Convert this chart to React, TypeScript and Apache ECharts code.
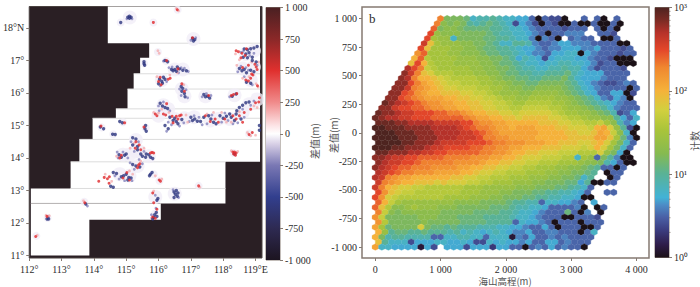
import React, { useEffect, useRef } from "react";
import * as echarts from "echarts";

// ---------- panel a: coastline of the survey tiles (lon, lat) ----------
const seaLon = [114.43, 114.43, 115.71, 115.71, 115.43, 115.43, 115.23, 115.23, 115.04, 115.04, 114.68, 114.68, 113.96, 113.96, 113.55, 113.55, 113.28, 113.28, 112.05, 112.05, 113.86, 113.86, 116.07, 116.07, 118.07, 118.07, 119.14, 119.14];
const seaLat = [18.7, 17.53, 17.53, 17.08, 17.08, 16.59, 16.59, 16.12, 16.12, 15.51, 15.51, 15.22, 15.22, 14.57, 14.57, 13.88, 13.88, 13.06, 13.06, 11.0, 11.0, 12.1, 12.1, 12.6, 12.6, 13.88, 13.88, 18.7];
// seams: [lonStart, lonEnd, lat]
const seams = [
  [115.71, 119.14, 17.53], [115.23, 119.14, 16.59], [115.04, 119.14, 16.12], [114.68, 119.14, 15.51],
  [113.96, 119.14, 15.22], [113.55, 119.14, 14.57], [113.28, 118.07, 13.88], [113.28, 118.07, 13.06],
];
const darkSeam = [[112.05, 116.07, 12.6]];

const haloSmall = [
  [114.83, 18.17], [115.84, 18.17], [116.59, 18.56], [115.98, 17.26], [116.23, 16.98], [115.55, 16.91], [114.24, 14.94], [114.6, 14.73], [114.9, 15.1],
  [115.6, 14.93], [118.8, 14.75], [113.7, 12.65], [112.57, 12.15], [112.22, 11.6], [117.24, 13.14], [116.03, 13.3], [115.85, 13.5], [118.32, 14.15], [115.88, 12.28],
];
const haloLarge = [
  [115.11, 18.32], [117.08, 17.66], [116.5, 16.72], [116.75, 16.72], [116.1, 16.4], [116.72, 16.12], [116.8, 15.9], [117.45, 15.9], [118.35, 15.93], [116.15, 15.62],
  [116.3, 15.5], [116, 15.3], [116.5, 15.2], [116.8, 15.22], [117.1, 15.25], [117.6, 15.15], [117.85, 15.2], [118.2, 15.2], [118.6, 15.4], [118.8, 15.65], [119.05, 15.8],
  [118.7, 17.2], [118.95, 17.3], [118.6, 16.75], [118.95, 16.8], [118.85, 16.4], [115.3, 14.55], [115.3, 14.2], [115.4, 14.2], [115.7, 14.05], [114.9, 14.1], [115.1, 14.1],
  [115.35, 13.75], [114.8, 13.5], [115.1, 13.45], [116.5, 12.9], [115.9, 12.8],
];
const midBlue = [
  [115.02, 18.28], [115.18, 18.28], [117.0, 17.62], [117.15, 17.7], [116.15, 16.98], [116.32, 16.78], [116.42, 16.8], [116.62, 16.62], [116.7, 16.78], [116.8, 16.76], [116.92, 16.66], [116.25, 16.35], [116.05, 16.22],
  [116.65, 16.12], [116.85, 16.1], [116.7, 15.92], [116.9, 15.85], [117.35, 15.88], [117.48, 15.98], [117.62, 15.92], [118.2, 15.88], [118.55, 17.25], [118.62, 17.28], [118.82, 17.15], [118.95, 17.22], [118.45, 16.65],
  [118.55, 16.82], [118.7, 16.78], [118.78, 16.7], [119.05, 16.85], [118.65, 16.5], [118.9, 16.25], [116.0, 15.6], [116.15, 15.72], [116.35, 15.45], [116.02, 15.45], [116.3, 15.1], [116.4, 15.02], [116.65, 14.98], [116.78, 15.08],
  [116.25, 14.82], [116.95, 15.12], [117.1, 15.3], [117.25, 15.25], [117.35, 15.02], [117.5, 15.05], [117.65, 15.32], [117.95, 15.1], [118.05, 15.38], [118.15, 15.15], [118.3, 15.05], [118.45, 15.08], [118.65, 15.25], [118.6, 15.5],
  [118.85, 15.62], [118.95, 15.75], [115.15, 14.5], [115.38, 14.5], [115.25, 14.2], [115.55, 14.2], [115.4, 13.95], [114.72, 14.18], [114.9, 14.18], [115.05, 14.0], [114.75, 14.0], [115.12, 13.85], [115.5, 13.82], [115.25, 13.65],
  [114.65, 13.45], [114.78, 13.35], [115.18, 13.3], [114.95, 13.3], [116.45, 13.02], [116.62, 12.78], [115.9, 12.85], [115.92, 12.45], [115.78, 12.25], [113.8, 12.52], [112.6, 12.18],
];
const pinkSpots = [
  [116.62, 18.53], [116.55, 18.6], [115.98, 17.3], [116.02, 17.22], [116.35, 16.55], [115.95, 16.5], [116.78, 16.25], [116.58, 16.62], [118.38, 17.2], [118.5, 17.02], [118.42, 16.85], [118.88, 16.95], [119.1, 16.95], [119.02, 16.28],
  [119.08, 16.18], [118.8, 16.5], [118.6, 16.45], [115.85, 15.4], [116.0, 15.38], [116.1, 15.5], [116.32, 15.4], [116.85, 15.32], [116.9, 15.1], [117.5, 15.35], [117.7, 15.4], [117.95, 15.4], [118.1, 15.1], [118.25, 15.1], [118.5, 15.42],
  [118.95, 15.6], [119.05, 15.55], [118.75, 14.78], [118.85, 14.68], [119.0, 14.7], [115.12, 14.3], [115.25, 14.45], [115.55, 14.3], [114.7, 14.05], [115.45, 13.9], [115.1, 13.6], [114.35, 13.5], [114.55, 13.28], [115.2, 13.5], [115.9, 13.45],
  [116.1, 13.35], [117.28, 13.1], [115.85, 12.98], [115.78, 12.15], [113.68, 12.68], [112.52, 12.24], [112.62, 12.22], [112.25, 11.62], [118.25, 14.22], [118.45, 14.2],
];
const bluePeaks = [
  [115.05, 18.33], [115.1, 18.3], [115.15, 18.33], [115.1, 18.36], [114.83, 18.17], [117.05, 17.68], [117.12, 17.64], [117.08, 17.6], [116.2, 17.0], [116.28, 16.96],
  [115.55, 16.96], [115.55, 16.9], [115.57, 16.85], [116.4, 16.72], [116.45, 16.68], [116.5, 16.72], [116.55, 16.67], [116.58, 16.8], [116.65, 16.74], [116.75, 16.7], [116.86, 16.68],
  [116.03, 16.42], [116.1, 16.36], [116.15, 16.48], [116.2, 16.42], [116.0, 16.28], [116.12, 16.3], [116.7, 16.2], [116.75, 16.14], [116.72, 16.05], [116.8, 15.98], [116.82, 15.88],
  [117.4, 15.95], [117.45, 15.88], [117.52, 15.9], [117.58, 15.84], [118.28, 15.9], [118.4, 15.97],
  [118.65, 17.35], [118.75, 17.33], [118.85, 17.36], [118.95, 17.38], [119.05, 17.43], [118.7, 17.2], [118.8, 17.24], [118.62, 17.1], [118.75, 17.08], [118.9, 17.1],
  [118.5, 16.75], [118.58, 16.68], [118.65, 16.72], [118.72, 16.62], [118.85, 16.7], [118.95, 16.65], [118.9, 17.0], [119.02, 16.95], [118.72, 16.33], [118.85, 16.3],
  [116.05, 15.68], [116.12, 15.6], [116.2, 15.55], [116.28, 15.52], [116.35, 15.25], [116.45, 15.15], [116.5, 15.22], [116.55, 15.12], [116.6, 15.05], [116.72, 15.18], [116.2, 15.0], [116.3, 14.9],
  [117.0, 15.25], [117.05, 15.15], [117.12, 15.2], [117.2, 15.13], [117.3, 15.12], [117.4, 15.25], [117.55, 15.3], [117.62, 15.2], [117.7, 15.1], [117.78, 15.05], [117.9, 15.3], [118, 15.22], [118.1, 15.28], [118.2, 15.35], [118.25, 15.25],
  [118.4, 15.35], [118.42, 15.45], [118.5, 15.55], [118.6, 15.62], [118.7, 15.7], [118.8, 15.72], [118.35, 15.15], [118.55, 15.2], [119.12, 15.0], [119.12, 14.85],
  [114.2, 14.95], [114.3, 14.9], [114.58, 14.73], [114.66, 14.72], [114.8, 15.12], [114.88, 15.08], [115.6, 15.0], [115.58, 14.9], [115.62, 14.82],
  [115.2, 14.62], [115.3, 14.58], [115.2, 14.4], [115.35, 14.35], [115.35, 14.25], [115.45, 14.12], [115.5, 14.05], [115.6, 14.02], [115.62, 14.12], [115.75, 14.02], [115.82, 13.98], [115.7, 14.1],
  [114.78, 14.1], [114.85, 14.02], [114.95, 14.08], [115.0, 14.12], [115.2, 13.8], [115.3, 13.75], [115.42, 13.72], [115.75, 13.5], [115.8, 13.55], [115.72, 13.45],
  [114.6, 13.55], [114.7, 13.52], [114.85, 13.42], [114.92, 13.45], [115, 13.5], [115.08, 13.4], [115.05, 13.32], [115.15, 13.38], [114.52, 13.13], [114.6, 13.1],
  [116.48, 12.95], [116.52, 12.88], [116.58, 12.82], [116.48, 12.78], [116.55, 13.0], [116.6, 12.92], [115.98, 12.75], [115.95, 12.7], [115.93, 12.32], [115.88, 12.25], [115.85, 12.17], [115.82, 12.12], [115.95, 12.2],
  [113.75, 12.58], [112.6, 12.12], [112.55, 12.12], [118.35, 14.12],
];
const redPeaks = [
  [116.58, 18.56], [115.84, 18.17], [117.05, 17.7], [116.25, 17.0], [116.05, 16.48], [116.0, 16.35], [116.3, 16.42], [116.36, 16.45], [116.08, 16.25], [116.6, 16.74], [116.72, 16.28], [116.8, 16.05],
  [117.55, 15.92], [118.32, 15.95], [118.42, 15.98], [118.25, 15.92], [118.4, 17.3], [118.47, 17.27], [118.58, 17.22], [118.72, 17.36], [118.55, 17.08], [118.68, 17.15], [118.98, 16.88], [119.02, 16.8], [119.05, 16.72],
  [118.7, 16.4], [118.78, 16.37], [118.85, 16.45], [118.92, 16.55], [118.88, 16.58], [119.06, 16.22], [118.6, 16.78], [118.78, 16.85], [116.15, 15.35], [116.22, 15.32], [115.9, 15.35], [115.95, 15.3], [116.25, 15.67],
  [116.42, 15.28], [116.55, 15.28], [116.65, 15.3], [116.7, 15.32], [116.45, 15.08], [116.6, 15.2], [117.6, 15.12], [117.45, 15.3], [117.75, 15.2], [117.85, 15.1], [118.05, 15.2], [118.3, 15.3], [118.4, 15.2], [118.5, 15.3], [118.6, 15.1], [118.65, 15.4], [118.85, 15.5], [119, 15.7], [119.1, 15.72], [119.12, 15.85],
  [114.22, 14.98], [114.95, 15.08], [115.55, 14.95], [118.8, 14.72], [118.9, 14.78], [115.3, 14.5], [115.28, 14.3], [115.45, 14.25], [115.4, 14.4], [115.75, 14.15], [115.8, 14.17], [115.85, 14.15],
  [114.85, 14.08], [114.8, 14.0], [115.38, 13.78], [115.42, 13.82], [115.35, 13.7], [116.02, 13.32], [116.06, 13.28], [117.24, 13.14], [114.15, 13.28], [114.32, 13.4], [114.42, 13.36], [114.48, 13.42], [114.47, 13.22],
  [114.9, 13.38], [115.1, 13.32], [115.02, 13.55], [115.82, 12.92], [115.85, 12.62], [115.95, 12.42], [115.82, 12.18], [115.9, 12.14], [113.72, 12.62], [112.2, 11.58], [112.55, 12.2],
  [118.3, 14.18], [118.35, 14.18], [118.4, 14.15], [118.38, 14.08], [118.32, 14.12],
];

const lonTicks = [112, 113, 114, 115, 116, 117, 118, 119];
const latTicks = [11, 12, 13, 14, 15, 16, 17, 18];
const diffTicks = [-1000, -750, -500, -250, 0, 250, 500, 750, 1000];
const elevTicks = [0, 1000, 2000, 3000, 4000];
const countMinor = [2, 3, 4, 5, 6, 7, 8, 9, 20, 30, 40, 50, 60, 70, 80, 90, 200, 300, 400, 500, 600, 700, 800, 900];

// ---------- panel b: hexbin counts, one string per hexagon row from +1000 m down.
// Each character is 10*log10(count) in base 36; "." is an empty cell.
const hexStep = 100;
const hexRowStep = 43.48;
const hexRows = [
  "ncccb899a98877505440..5.50.5",
  "ndcdca9aba9847640540050050050",
  "ocddcbbbbaa9887655554555.5050",
  "pedddccccba9988765055666..554",
  "pfee8ccccbbaa98860650.5655.005",
  "qjfeeeddccba88aa9655677666555500",
  "pjfffeeddcbbaa9877656677766755545",
  "mofffeedddcbbaa987665778807655" + "5455",
  "kogffffeeeddccba79874788877655" + "4000",
  "jpkgfffeeeeddcbba9887889988764" + "55000",
  "rpnhgfffffeeddccba998899a99764" + "5554",
  "sqnjigggfffeeddcbbaa99aaab9877" + "75555",
  "srnkkjihggggffedccbbaabbbca877" + "76555",
  "sspnlkjihhgggffeedccbbccccba87" + "6544565",
  "ssqnmlkjiihhhggffeddccddddcba8" + "76555505",
  "sspomlkkjjjiihhgfeeeddeeeedcba" + "87557704",
  "ssponmlllkkjjiihhgffeeffffeedc" + "ba865760",
  "tsrqponmmllkkjjiihhgffggggffed" + "cba987655",
  "ssqppoonmmllkkjjiihhgghhhhggfe" + "edcba86555",
  "tssrqqpppoonnmlkkjjiihiiiiihgf" + "feedcb9457",
  "tsrrqqpppooooonmllkkjjijjjjiih" + "ggfeedda758",
  "tttssrrrrqqqqppnmmllkkkkkjjjii" + "hhgghfd967",
  "uutttssssrrrrqponnmllklllkkkjj" + "iiihkliea40",
  "uuutttsssrrrrqqponmllllllkkkkj" + "jiijlkhd80",
  "uuuutttsssrrrqqqpnnmmllllkkkkk" + "jjjjlljfb60",
  "uuuuttsssrqqqqpppon" + "nmmmlllkkjj" + "jiijkifc85",
  "uuuttsssrqqppppoonnmmllkkkjjji" + "iihikifc85",
  "ttsssrrqqppooooonnmmlkkjjiiihh" + "hgggiec70",
  "ssrqqppoooonnnnmmmllkkjiiihhhg" + "g8fe5ca600",
  "srqqpponnnnnmmmmlkkjjiihhgggff" + "feddc97500",
  "srqpoonnnmmmmllkkjjiihhggfffee" + "ddcba5505",
  "rqponnmmmllllkkjiihhgggfffeedd" + "ccba.055",
  "rqnmllkkkkkkjjiihhgggfffeeeddc" + "cb8a..05",
  "qnmlkkjjjijiiihhggfffeeeddcccb" + "b7a0055",
  "qnkjiihhggggggfffeeeeedddcccbb" + "a985",
  "pmjihhggggggg" + "fffeeeddcccbbaa99" + "875..55",
  "pmihgggggggffffeeeddcccbbaa998" + "8700",
  "okhfeeeeeeeeddddccccbaa99588" + "7765.7",
  "ojgddefeeedddcccccbbba99887555" + "560.05",
  "nhdcddddddcccccbbbbaa98876555b" + "506.0",
  "mhcccccdddcccbbbbaaaa988765550" + "05554",
  "mgcccccdcccccbbbbaaaa5877650555" + "0555",
  "lfbccccicbbabaaa99988776557505" + "55005",
  "keabbaabaaa9a89878987667556655" + "5058",
  "kc9aa999955889988588816575565" + "65555",
  "ja88847778877874487877675577" + "56555",
  "l887777174.777477737755056575" + "6550",
];

// ---------- colours ----------
const countStops: [number, string][] = [
  [0, "#1b1117"], [0.05, "#2e1c48"], [0.11, "#3b3d80"], [0.16, "#4a5fa5"], [0.21, "#4c8cc6"], [0.24, "#42b2d6"], [0.336, "#5ab295"], [0.416, "#86ba50"],
  [0.51, "#a9c43a"], [0.59, "#d2d03e"], [0.667, "#f5b23a"], [0.76, "#f0872f"], [0.83, "#e4472a"], [0.9, "#b5322a"], [0.95, "#7a2b24"], [1, "#4e2420"],
];
const diffStops: [number, string][] = [
  [0, "#1c1420"], [0.125, "#2e2a52"], [0.25, "#323f8e"], [0.375, "#7a78b4"], [0.46, "#d8d0e6"], [0.5, "#ffffff"], [0.53, "#fde6e8"], [0.625, "#f08a8a"], [0.75, "#e0302e"], [0.875, "#8a2828"], [1, "#4a2022"],
];
function gradient(stops: [number, string][]) {
  return { type: "linear", x: 0, y: 1, x2: 0, y2: 0, colorStops: stops.map(([offset, color]) => ({ offset, color })) };
}
function countColor(log10Count: number) {
  const f = log10Count / 3;
  for (let i = 1; i < countStops.length; i++) {
    if (f <= countStops[i][0]) {
      const [a, ca] = countStops[i - 1];
      const [b, cb] = countStops[i];
      return echarts.color.lerp((f - a) / (b - a), [ca, cb]);
    }
  }
  return countStops[countStops.length - 1][1];
}
function grouped(v: number) {
  const a = Math.abs(v);
  const s = a >= 1000 ? `${Math.floor(a / 1000)} ${String(a % 1000).padStart(3, "0")}` : String(a);
  return v < 0 ? `-${s}` : s;
}

// one [x, y, count] per cell, read from the rows above
function hexCells() {
  const cells: number[][] = [];
  hexRows.forEach((row, r) => {
    const y = 1000 - r * hexRowStep;
    const first = r <= 20 ? 1000 - 50 * r : r % 2 ? 50 : 0;
    [...row].forEach((ch, j) => {
      if (ch !== ".") cells.push([first + j * hexStep, y, Math.pow(10, parseInt(ch, 36) / 10)]);
    });
  });
  return cells;
}

const frame = "#857a72";
const serif = "Liberation Serif";
const cjk = "Noto Sans CJK SC";
const ink = "#2b2b2b";

export default function App() {
  const ref = useRef<HTMLDivElement>(null);
  useEffect(() => {
    document.body.style.margin = "0";
    document.body.style.background = "#fff";
    const chart = echarts.init(ref.current!, undefined, { renderer: "svg" });
    const label = { fontFamily: serif, fontSize: 10, color: ink };
    const noLine = { show: false, onZero: false };
    const tickStyle = { lineStyle: { color: frame, width: 1 }, length: 3 };
    const hiddenX = (gridIndex: number) => ({ gridIndex, type: "value", min: 0, max: 1, show: false, axisLine: noLine });

    const dot = (data: number[][], size: number, color: string, z: number) => ({
      type: "scatter", xAxisIndex: 0, yAxisIndex: 0, data, symbolSize: size, z, silent: true,
      itemStyle: { color, borderWidth: 0 },
    });

    chart.setOption({
      animation: false,
      backgroundColor: "#fff",
      grid: [
        { left: 26.5, top: 6.5, width: 235.5, height: 251.5, show: true, backgroundColor: "#2a1f24", borderColor: "#4a4240", borderWidth: 1 },
        { left: 266, top: 7.5, width: 14, height: 252.5, show: true, borderColor: frame, borderWidth: 1 },
        { left: 362, top: 7, width: 287, height: 251, show: true, backgroundColor: "#fff", borderColor: frame, borderWidth: 1.5 },
        { left: 655, top: 7.5, width: 14, height: 250, show: true, borderColor: frame, borderWidth: 1 },
      ],
      xAxis: [
        {
          gridIndex: 0, type: "value", min: 112, max: 119.2, axisLine: noLine, splitLine: { show: false },
          axisTick: { ...tickStyle, customValues: lonTicks },
          axisLabel: { ...label, margin: 6, customValues: lonTicks, formatter: (v: number) => (v === 119 ? "119°E" : `${v}°`) },
        },
        hiddenX(1),
        {
          gridIndex: 2, type: "value", min: -204, max: 4191, axisLine: noLine, splitLine: { show: false },
          axisTick: { ...tickStyle, customValues: elevTicks },
          axisLabel: { ...label, margin: 6, customValues: elevTicks, formatter: grouped },
        },
        hiddenX(3),
      ],
      yAxis: [
        {
          gridIndex: 0, type: "value", min: 10.92, max: 18.66, axisLine: noLine, splitLine: { show: false },
          axisTick: { ...tickStyle, customValues: latTicks },
          axisLabel: { ...label, margin: 5, customValues: latTicks, formatter: (v: number) => (v === 18 ? "18°N" : `${v}°`) },
        },
        {
          gridIndex: 1, type: "value", position: "right", min: -1000, max: 1000, interval: 250, axisLine: noLine, splitLine: { show: false },
          axisTick: { ...tickStyle }, axisLabel: { ...label, margin: 5, formatter: grouped },
        },
        {
          gridIndex: 2, type: "value", min: -1096, max: 1102, axisLine: noLine, splitLine: { show: false },
          axisTick: { ...tickStyle, customValues: diffTicks },
          axisLabel: { ...label, margin: 5, customValues: diffTicks, formatter: grouped },
        },
        {
          gridIndex: 3, type: "log", position: "right", min: 1, max: 1000, axisLine: noLine, splitLine: { show: false },
          axisTick: { ...tickStyle }, axisLabel: { ...label, margin: 5, formatter: (v: number) => `10${"⁰¹²³"[Math.round(Math.log10(v))]}` },
          minorTick: { show: false },
        },
      ],
      graphic: [
        { type: "text", x: 247, y: 11, style: { text: "a", fontFamily: serif, fontSize: 13, fill: ink } },
        { type: "text", x: 369, y: 12, style: { text: "b", fontFamily: serif, fontSize: 13, fill: ink } },
        { type: "text", x: 314, y: 141, rotation: Math.PI / 2, style: { text: "差值(m)", fontFamily: cjk, fontSize: 10, fill: "#555", align: "center", verticalAlign: "middle" } },
        { type: "text", x: 333, y: 135, rotation: Math.PI / 2, style: { text: "差值(m)", fontFamily: cjk, fontSize: 10, fill: "#555", align: "center", verticalAlign: "middle" } },
        { type: "text", x: 505, y: 280.5, style: { text: "海山高程(m)", fontFamily: cjk, fontSize: 9.5, fill: "#555", align: "center", verticalAlign: "middle" } },
        { type: "text", x: 694, y: 141, rotation: Math.PI / 2, style: { text: "计数", fontFamily: cjk, fontSize: 10, fill: "#555", align: "center", verticalAlign: "middle" } },
      ],
      series: [
        // panel a — sea region, seams, residuals
        {
          type: "custom", xAxisIndex: 0, yAxisIndex: 0, coordinateSystem: "cartesian2d", data: [[112, 11]], z: 1, silent: true, clip: true,
          renderItem: (_p: any, api: any) => ({
            type: "polygon",
            shape: { points: seaLon.map((lon, i) => api.coord([lon, seaLat[i]])) },
            style: { fill: "#fff" },
          }),
        },
        ...[{ d: seams, c: "#dcdcdc" }, { d: darkSeam, c: "#b4b0b0" }].map(({ d, c }) => ({
          type: "custom", xAxisIndex: 0, yAxisIndex: 0, coordinateSystem: "cartesian2d", data: d, z: 2, silent: true,
          renderItem: (_p: any, api: any) => {
            const a = api.coord([api.value(0), api.value(2)]);
            const b = api.coord([api.value(1), api.value(2)]);
            return { type: "line", shape: { x1: a[0], y1: a[1], x2: b[0], y2: b[1] }, style: { stroke: c, lineWidth: 1 } };
          },
        })),
        dot(haloLarge, 14, "#f1edf7", 3),
        dot(haloSmall, 8, "#f1edf7", 3),
        dot(midBlue, 2.8, "#8583bd", 4),
        dot(pinkSpots, 2.8, "#f4aeb0", 4),
        dot(bluePeaks, 3.4, "#2c357e", 5),
        dot(redPeaks, 3, "#e0282a", 6),
        // colour bar a
        {
          type: "custom", xAxisIndex: 1, yAxisIndex: 1, coordinateSystem: "cartesian2d", data: [[0, -1000, 1, 1000]], silent: true,
          renderItem: (_p: any, api: any) => {
            const a = api.coord([api.value(0), api.value(3)]);
            const b = api.coord([api.value(2), api.value(1)]);
            return { type: "rect", shape: { x: a[0], y: a[1], width: b[0] - a[0], height: b[1] - a[1] }, style: { fill: gradient(diffStops) } };
          },
        },
        // panel b — hexbin
        {
          type: "custom", xAxisIndex: 2, yAxisIndex: 2, coordinateSystem: "cartesian2d", data: hexCells(), silent: true, clip: true,
          encode: { x: 0, y: 1 },
          renderItem: (_p: any, api: any) => {
            const x = api.value(0), y = api.value(1);
            const sx = hexStep / 2, sy = (hexRowStep * 2) / 3, h = sy / 2;
            const pts = [[sx, -h], [sx, h], [0, sy], [-sx, h], [-sx, -h], [0, -sy]].map(([dx, dy]) => api.coord([x + dx, y + dy]));
            const fill = countColor(Math.log10(api.value(2)));
            return { type: "polygon", shape: { points: pts }, style: { fill, stroke: fill, lineWidth: 0.3 } };
          },
        },
        // colour bar b
        {
          type: "custom", xAxisIndex: 3, yAxisIndex: 3, coordinateSystem: "cartesian2d", data: [[0, 1, 1, 1000]], silent: true,
          renderItem: (_p: any, api: any) => {
            const a = api.coord([api.value(0), api.value(3)]);
            const b = api.coord([api.value(2), api.value(1)]);
            return { type: "rect", shape: { x: a[0], y: a[1], width: b[0] - a[0], height: b[1] - a[1] }, style: { fill: gradient(countStops) } };
          },
        },
        {
          type: "custom", xAxisIndex: 3, yAxisIndex: 3, coordinateSystem: "cartesian2d", data: countMinor.map((v) => [1, v]), silent: true, z: 5,
          renderItem: (_p: any, api: any) => {
            const a = api.coord([1, api.value(1)]);
            return { type: "line", shape: { x1: a[0], y1: a[1], x2: a[0] + 1.5, y2: a[1] }, style: { stroke: frame, lineWidth: 0.8 } };
          },
        },
      ],
    });
    return () => chart.dispose();
  }, []);
  return <div ref={ref} style={{ position: "fixed", left: 0, top: 0, width: 700, height: 287 }} />;
}
